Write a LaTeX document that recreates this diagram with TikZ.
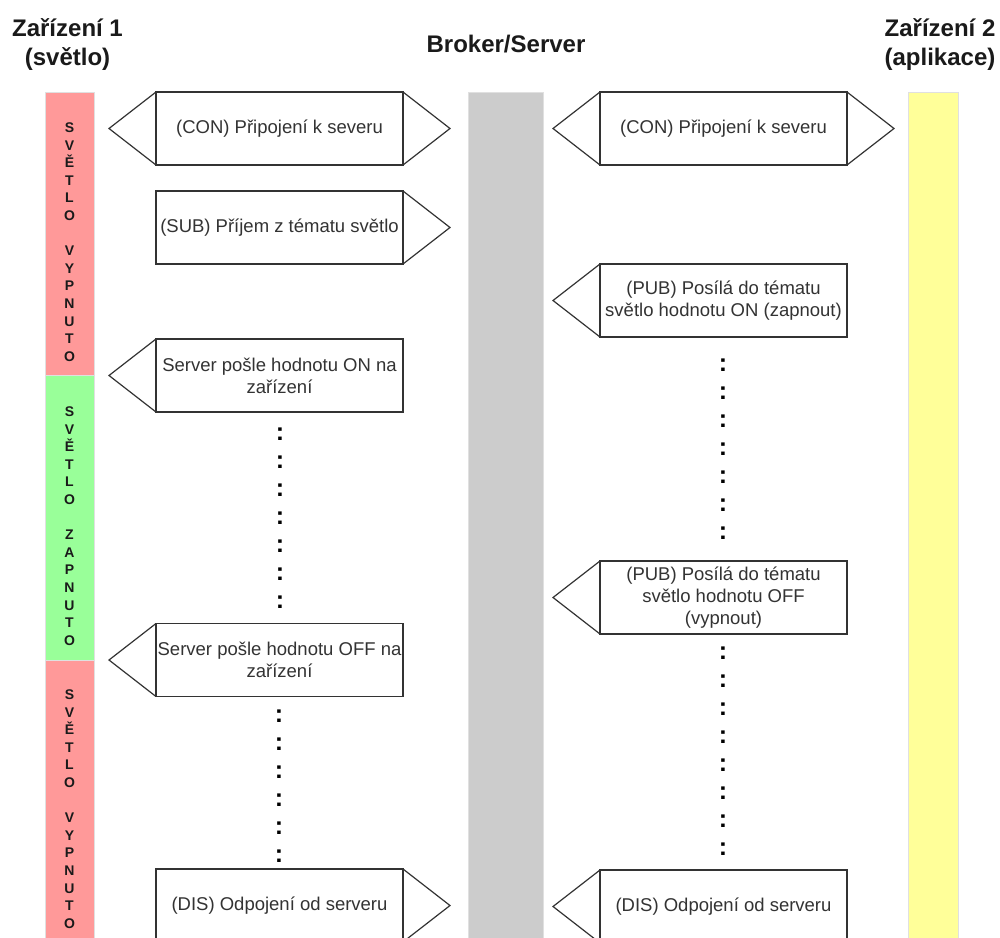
\documentclass[tikz,border=0pt]{standalone}
\usepackage{fontspec}
\setmainfont{Liberation Sans}
\usetikzlibrary{calc}
\definecolor{redbar}{HTML}{FF9999}
\definecolor{greenbar}{HTML}{99FF99}
\definecolor{yellowbar}{HTML}{FFFF99}
\definecolor{graybar}{HTML}{CCCCCC}
\definecolor{ink}{HTML}{333333}
\definecolor{titleink}{HTML}{1A1A1A}
\newcommand\lefttip[1]{\draw[tip] (#1.north west) -- ($(#1.west)+(-47,0)$) -- (#1.south west);}
\newcommand\righttip[1]{\draw[tip] (#1.north east) -- ($(#1.east)+(47,0)$) -- (#1.south east);}
\begin{document}
\begin{tikzpicture}[x=1pt,y=-1pt,
  msgbox/.style={draw=ink, line width=1.2pt, fill=white, minimum width=247pt, minimum height=73pt,
    inner sep=0pt, outer sep=0pt, align=center, text=ink, font=\fontsize{18.5}{22}\selectfont},
  tip/.style={draw=ink, line width=1.2pt, line join=miter},
  title/.style={font=\bfseries\fontsize{24}{29}\selectfont, text=titleink, anchor=base, inner sep=0pt},
  lane/.style={draw=black!12, line width=0.8pt},
  vlabel/.style={font=\bfseries\fontsize{14}{17.6}\selectfont, align=center, inner sep=0pt, text=titleink},
  dots/.style={font=\bfseries\fontsize{25}{28}\selectfont, align=center, inner sep=0pt, text=black}
]
\useasboundingbox (0,0) rectangle (1000,937);
\clip (0,0) rectangle (1000,937);
\fill[white] (0,0) rectangle (1000,937);

% lanes
\draw[lane, fill=redbar] (45,92) rectangle (94,375);
\draw[lane, fill=greenbar] (45,375) rectangle (94,660);
\draw[lane, fill=redbar] (45,660) rectangle (94,950);
\draw[lane, fill=graybar] (468,92) rectangle (543,950);
\draw[lane, fill=yellowbar] (908,92) rectangle (958,950);

% lane labels
\node[vlabel] (v1) at (69.5,242) {S\\V\\Ě\\T\\L\\O\\[17.6pt]V\\Y\\P\\N\\U\\T\\O};
\node[vlabel] (v2) at (69.5,526) {S\\V\\Ě\\T\\L\\O\\[17.6pt]Z\\A\\P\\N\\U\\T\\O};
\node[vlabel] (v3) at (69.5,809) {S\\V\\Ě\\T\\L\\O\\[17.6pt]V\\Y\\P\\N\\U\\T\\O};

% titles
\node[title] (t1a) at (67.5,36) {Zařízení 1};
\node[title] (t1b) at (67.5,65) {(světlo)};
\node[title] (t2) at (506,52) {Broker/Server};
\node[title] (t3a) at (940,36) {Zařízení 2};
\node[title] (t3b) at (940,65) {(aplikace)};

% messages, left
\node[msgbox] (l1) at (279.5,128.5) {(CON) Připojení k severu};
\node[msgbox] (l2) at (279.5,227.5) {(SUB) Příjem z tématu světlo};
\node[msgbox] (l3) at (279.5,375.5) {Server pošle hodnotu ON na\\zařízení};
\node[msgbox] (l4) at (279.5,660) {Server pošle hodnotu OFF na\\zařízení};
\node[msgbox] (l5) at (279.5,905.5) {(DIS) Odpojení od serveru};
\lefttip{l1}\righttip{l1}
\righttip{l2}
\lefttip{l3}
\lefttip{l4}
\righttip{l5}

% messages, right
\node[msgbox] (r1) at (723.5,128.5) {(CON) Připojení k severu};
\node[msgbox] (r2) at (723.5,300.5) {(PUB) Posílá do tématu\\světlo hodnotu ON (zapnout)};
\node[msgbox] (r3) at (723.5,597.5) {(PUB) Posílá do tématu\\světlo hodnotu OFF\\(vypnout)};
\node[msgbox] (r4) at (723.5,906.5) {(DIS) Odpojení od serveru};
\lefttip{r1}\righttip{r1}
\lefttip{r2}
\lefttip{r3}
\lefttip{r4}

% ellipsis dots
\node[dots] (d1) at (280,518) {:\\:\\:\\:\\:\\:\\:};
\node[dots] (d2) at (279,786) {:\\:\\:\\:\\:\\:};
\node[dots] (d3) at (723,449.5) {:\\:\\:\\:\\:\\:\\:};
\node[dots] (d4) at (723,751.5) {:\\:\\:\\:\\:\\:\\:\\:};
\end{tikzpicture}
\end{document}
